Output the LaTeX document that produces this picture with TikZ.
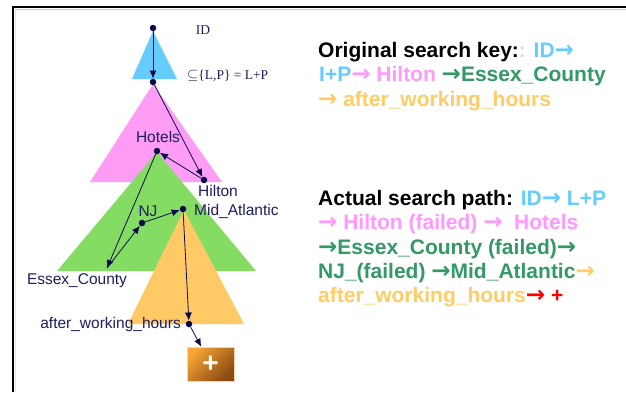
\documentclass[tikz,border=0pt]{standalone}
\usepackage{fontspec}
\setmainfont{Liberation Sans}
\newfontfamily\serifface{Liberation Serif}
\newfontfamily\arrface{DejaVu Sans}
\usetikzlibrary{arrows.meta}
\definecolor{navy}{HTML}{1E1E60}
\definecolor{dotc}{HTML}{0A0A4A}
\definecolor{kblue}{HTML}{66CCFF}
\definecolor{kpink}{HTML}{FF99FF}
\definecolor{kgreen}{HTML}{339966}
\definecolor{korange}{HTML}{FFCC66}
\definecolor{tblue}{HTML}{66CCFF}
\definecolor{tpink}{HTML}{FF9CF5}
\definecolor{tgreen}{HTML}{85DC63}
\definecolor{torange}{HTML}{FFC966}
\definecolor{boxlight}{HTML}{F7A535}
\definecolor{boxdark}{HTML}{8A4A12}
\newcommand\rarr{{\arrface\bfseries\fontsize{23}{24}\selectfont →}}
\tikzset{
  dot/.style={circle,fill=dotc,inner sep=0pt,minimum size=6.5pt},
  lbl/.style={text=navy,font=\fontsize{15.5}{17}\selectfont,inner sep=0pt},
  slbl/.style={text=navy,font=\serifface\fontsize{13.5}{15}\selectfont,inner sep=0pt},
  link/.style={draw=dotc,line width=0.8pt,-{Latex[length=8pt,width=7pt]}},
  keyline/.style={anchor=base west,inner sep=0pt,font=\fontsize{21}{24}\selectfont\bfseries}
}
\begin{document}
\begin{tikzpicture}[x=1pt,y=-1pt]
\useasboundingbox (0,0) rectangle (626,392);
\fill[white] (0,0) rectangle (626,392);
% frame
\draw[black!10,line width=0.8pt] (15.8,392) -- (15.8,9);
\draw[blue!25,line width=0.6pt] (15,8.8) -- (626,8.8);
\draw[line width=2pt] (12.8,392) -- (12.8,6.6) -- (626,6.6);
% triangles
\fill[tblue] (153,31) -- (177,79) -- (132,79) -- cycle;
\fill[tpink] (153,84) -- (222,182) -- (90,182) -- cycle;
\fill[tgreen] (157,152) -- (256,271) -- (57,271) -- cycle;
\fill[torange] (184,210) -- (244,324) -- (128,324) -- cycle;
% dots
\node[dot] (id) at (153,28) {};
\node[dot] (lp) at (153,82) {};
\node[dot] (hotels) at (157,151) {};
\node[dot] (hilton) at (204,180) {};
\coordinate (essex) at (107,268);
\node[dot] (nj) at (142,223) {};
\node[dot] (mid) at (183,209) {};
\node[dot] (awh) at (189,324) {};
\node[draw=orange!35,line width=0.6pt,top color=boxlight,bottom color=boxdark,shading angle=45,
      minimum width=47pt,minimum height=34pt,inner sep=0pt,
      text=white,font=\fontsize{28}{28}\selectfont\bfseries] (plus) at (210.5,364) {+};
% links
\draw[link] (id) -- (lp);
\draw[link] (lp) -- (hilton);
\draw[link] (hilton) -- (hotels);
\draw[link] (hotels) -- (essex);
\draw[link] (essex) -- (nj);
\draw[link] (nj) -- (mid);
\draw[link] (mid) -- (awh);
\draw[link] (awh) -- (plus);
% tree labels
\node[slbl] (tid) at (203,30) {ID};
\node[slbl,anchor=west] (tlp) at (187,76) {$\subseteq$\{L,P\} = L+P};
\node[lbl] (thotels) at (158,137) {Hotels};
\node[lbl] (thilton) at (218,191) {Hilton};
\node[lbl] (tnj) at (148,211) {NJ};
\node[lbl,anchor=west] (tmid) at (194,211) {Mid\_Atlantic};
\node[lbl] (tessex) at (77,281) {Essex\_County};
\node[lbl,anchor=east] (tawh) at (181,324) {after\_working\_hours};
% right text
\node[keyline] (k1) at (318,57) {Original search key:\textcolor{black!15}{:} \textcolor{kblue}{ID\rarr}};
\node[keyline] (k2) at (319,81.5) {\textcolor{kblue}{I+P}\textcolor{kpink}{\rarr{} Hilton} \textcolor{kgreen}{\rarr Essex\_County}};
\node[keyline] (k3) at (318,106) {\textcolor{korange}{\rarr{} after\_working\_hours}};
\node[keyline] (a1) at (318,205) {Actual search path: \textcolor{kblue}{ID\rarr{} L+P}};
\node[keyline] (a2) at (318,229) {\textcolor{kpink}{\rarr{} Hilton (failed) \rarr{}\ \ Hotels}};
\node[keyline] (a3) at (318,254) {\textcolor{kgreen}{\rarr Essex\_County (failed)\rarr}};
\node[keyline] (a4) at (318,278) {\textcolor{kgreen}{NJ\_(failed) \rarr Mid\_Atlantic}\textcolor{korange}{\rarr}};
\node[keyline] (a5) at (318,302) {\textcolor{korange}{after\_working\_hours}\textcolor{red}{\rarr{} +}};
\end{tikzpicture}
\end{document}
